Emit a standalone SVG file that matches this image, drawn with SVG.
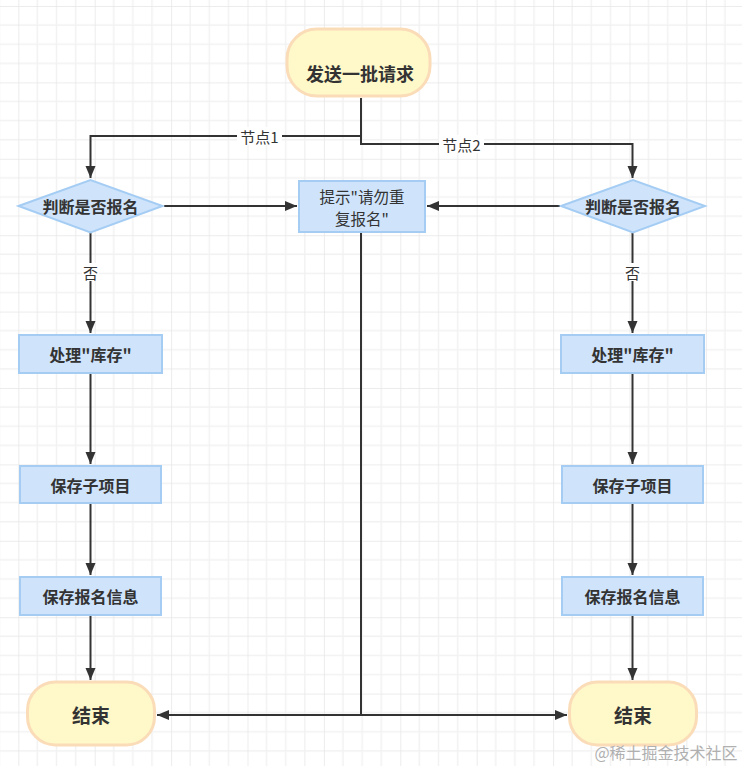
<svg xmlns="http://www.w3.org/2000/svg" width="742" height="766" viewBox="0 0 742 766">
<style>
.t{font-family:"Noto Sans CJK SC","Noto Sans",sans-serif;fill:#333;text-anchor:middle;dominant-baseline:central}
.b{font-weight:bold;font-size:16px}
.n{font-size:15px}
.proc{fill:#cfe4fb;stroke:#a5cdf4;stroke-width:2}
.term{fill:#fff8c8;stroke:#fbdcb8;stroke-width:3}
.c{fill:none;stroke:#333;stroke-width:2}
.lb{fill:#fff}
</style>
<defs>
<pattern id="grid" patternUnits="userSpaceOnUse" x="18.3" y="6" width="76.4" height="76.4">
<path d="M19.1,0V76.4M38.2,0V76.4M57.3,0V76.4M0,19.1H76.4M0,38.2H76.4M0,57.3H76.4" stroke="#f2f2f2" stroke-width="1.5" fill="none"/>
<path d="M0,0V76.4M0,0H76.4" stroke="#e6e6e6" stroke-width="1.5" fill="none"/>
</pattern>
<marker id="ah" markerUnits="userSpaceOnUse" markerWidth="13" markerHeight="11" refX="12" refY="5" orient="auto">
<path d="M0,0L12,5L0,10z" fill="#333"/>
</marker>
</defs>
<rect width="742" height="766" fill="#fff"/>
<rect width="742" height="766" fill="url(#grid)"/>
<g id="connectors">
<path class="c" d="M361,98V136H90.5V178" marker-end="url(#ah)"/>
<path class="c" d="M361,136V144H632.5V178" marker-end="url(#ah)"/>
<path class="c" d="M164,206H297" marker-end="url(#ah)"/>
<path class="c" d="M560,206H427" marker-end="url(#ah)"/>
<path class="c" d="M90.5,233V333" marker-end="url(#ah)" stroke="#555"/>
<path class="c" d="M632.5,233V333" marker-end="url(#ah)" stroke="#555"/>
<path class="c" d="M90.5,374V464" marker-end="url(#ah)"/>
<path class="c" d="M90.5,504V575" marker-end="url(#ah)"/>
<path class="c" d="M90.5,616V680" marker-end="url(#ah)"/>
<path class="c" d="M632.5,374V464" marker-end="url(#ah)"/>
<path class="c" d="M632.5,504V575" marker-end="url(#ah)"/>
<path class="c" d="M632.5,616V680" marker-end="url(#ah)"/>
<path class="c" d="M361,233V715"/>
<path class="c" d="M361,715H157" marker-end="url(#ah)"/>
<path class="c" d="M361,715H567" marker-end="url(#ah)"/>
<rect class="lb" x="237" y="127" width="45" height="18"/>
<text class="t n" x="259.5" y="136">节点1</text>
<rect class="lb" x="439" y="135" width="45" height="18"/>
<text class="t n" x="461.5" y="144">节点2</text>
<rect class="lb" x="82" y="263" width="17" height="18"/>
<text class="t n" x="90.5" y="272">否</text>
<rect class="lb" x="624" y="263" width="17" height="18"/>
<text class="t n" x="632.5" y="272">否</text>
</g>
<g id="start">
<rect class="term" x="287" y="29" width="143" height="67" rx="30"/>
<text class="t b" x="360" y="73" style="font-size:18px">发送一批请求</text>
</g>
<g id="decision1">
<path class="proc" d="M18.5,206L90.5,180L162.5,206L90.5,232.5z"/>
<text class="t b" x="90.5" y="206">判断是否报名</text>
</g>
<g id="decision2">
<path class="proc" d="M561,206L633,180L705,206L633,232.5z"/>
<text class="t b" x="633" y="206">判断是否报名</text>
</g>
<g id="tip">
<rect class="proc" x="299" y="181" width="126" height="51"/>
<text class="t n" x="362" y="196" style="font-size:15.5px">提示"请勿重</text>
<text class="t n" x="362" y="218" style="font-size:15.5px">复报名"</text>
</g>
<g id="stock1">
<rect class="proc" x="19" y="335" width="143" height="38"/>
<text class="t b" x="90.5" y="354">处理"库存"</text>
</g>
<g id="stock2">
<rect class="proc" x="561" y="335" width="143" height="38"/>
<text class="t b" x="632.5" y="354">处理"库存"</text>
</g>
<g id="sub1">
<rect class="proc" x="20" y="466" width="141" height="37"/>
<text class="t b" x="90.5" y="484.5">保存子项目</text>
</g>
<g id="sub2">
<rect class="proc" x="562" y="466" width="141" height="37"/>
<text class="t b" x="632.5" y="484.5">保存子项目</text>
</g>
<g id="info1">
<rect class="proc" x="20" y="577" width="141" height="38"/>
<text class="t b" x="90.5" y="596">保存报名信息</text>
</g>
<g id="info2">
<rect class="proc" x="562" y="577" width="141" height="38"/>
<text class="t b" x="632.5" y="596">保存报名信息</text>
</g>
<g id="end1">
<rect class="term" x="27.5" y="682" width="127" height="63" rx="28"/>
<text class="t b" x="91" y="714" style="font-size:19px">结束</text>
</g>
<g id="end2">
<rect class="term" x="569.5" y="682" width="127" height="63" rx="28"/>
<text class="t b" x="633" y="714" style="font-size:19px">结束</text>
</g>
<text class="t" x="666" y="752" style="font-size:16px;fill:#b0b0b0">@稀土掘金技术社区</text>
</svg>
